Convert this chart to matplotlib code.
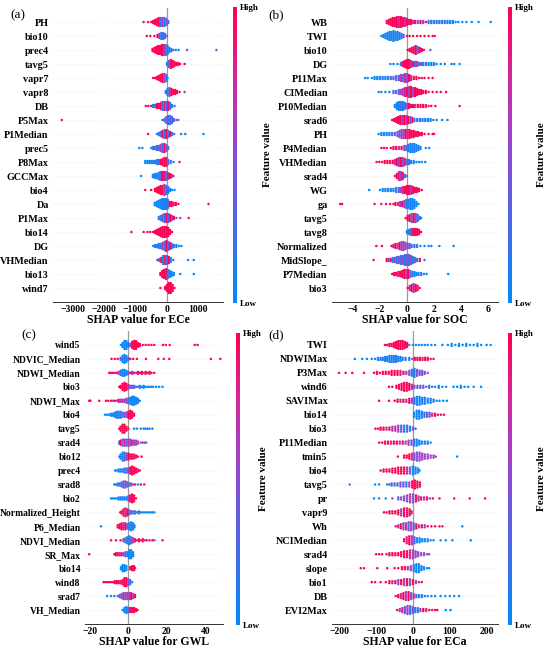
import numpy as np
import matplotlib
matplotlib.use("Agg")
import matplotlib.pyplot as plt
from matplotlib.colors import LinearSegmentedColormap, Normalize
from matplotlib.cm import ScalarMappable

plt.rcParams['font.family'] = ['Liberation Serif', 'DejaVu Serif']
plt.rcParams['font.weight'] = 'bold'
plt.rcParams['axes.labelweight'] = 'bold'

# each row: (shap value, number of stacked points, feature value 0=low 1=high)
feat_a = ["PH", "bio10", "prec4", "tavg5", "vapr7", "vapr8", "DB", "P5Max", "P1Median", "prec5",
          "P8Max", "GCCMax", "bio4", "Da", "P1Max", "bio14", "DG", "VHMedian", "bio13", "wind7"]
pts_a = [
    [(-740,1,1),(-600,1,1),(-500,1,1),(-440,2,1),(-380,3,1),(-320,4,0.9),(-260,5,1),(-200,5,0.1),(-140,5,0.7),(-80,5,0.1),(-20,4,0.5),(40,2,0.2)],
    [(-640,1,1),(-530,1,1),(-400,1,1),(-300,2,1),(-240,3,0.6),(-180,4,0.1),(-120,4,0.3),(-60,3,0.1),(0,1,0.5)],
    [(-460,2,1),(-400,3,1),(-340,4,1),(-280,5,1),(-220,5,1),(-160,6,1),(-100,6,0.8),(-40,6,0.3),(20,5,0.2),(80,3,0.1),(140,2,0.1),(200,1,0.1),(280,1,0),(370,1,0),(640,1,0.5),(1570,1,0.5)],
    [(0,2,0.1),(60,4,0.3),(120,5,1),(180,4,1),(240,3,1),(300,2,1),(360,2,1),(420,1,1),(560,1,1)],
    [(-440,1,1),(-380,1,1),(-320,2,1),(-260,3,1),(-200,4,1),(-140,5,1),(-80,5,0.6),(-20,4,0.1),(20,1,0)],
    [(-40,2,0.1),(20,4,0.1),(80,5,0.3),(140,4,1),(200,3,1),(260,3,1),(320,2,1),(400,1,1),(560,1,0.5)],
    [(-670,1,1),(-590,1,1),(-500,1,1),(-440,2,0),(-380,2,0.1),(-320,3,1),(-260,3,1),(-200,4,1),(-140,5,0.2),(-80,5,0.8),(-20,5,0.3),(40,5,0.9),(100,4,0.2),(160,2,0.1),(240,1,0)],
    [(-3340,1,1),(-140,1,0),(-80,2,0.2),(-20,4,0.5),(40,5,0.1),(100,5,0.3),(160,4,0.1),(220,2,0.5),(300,1,0.5),(360,1,0.5)],
    [(-600,1,1),(-320,1,0.1),(-260,2,0.1),(-200,3,0.3),(-140,4,1),(-80,5,0.1),(-20,5,1),(40,4,0.3),(100,3,1),(160,2,0.2),(230,1,0),(450,1,0),(580,1,0),(1160,1,0)],
    [(-880,1,0),(-780,1,0),(-500,1,0.2),(-440,2,0.1),(-380,2,0.1),(-320,3,0.4),(-260,3,0.2),(-200,4,0.6),(-140,5,0.3),(-80,5,1),(-20,4,0.5),(40,2,0.2)],
    [(-690,2,0),(-620,2,0),(-560,2,0),(-500,2,0.1),(-440,2,0),(-380,2,0.2),(-320,3,0),(-260,3,0.3),(-200,3,1),(-140,4,1),(-80,5,1),(-20,5,0.9),(40,3,0.3),(120,2,0.1),(210,1,0),(400,1,1)],
    [(-820,1,0),(-450,2,0.1),(-390,3,0),(-330,3,0.2),(-270,4,0.1),(-210,5,0.3),(-150,5,1),(-90,5,0.9),(-30,5,0.2),(30,4,0.8),(90,3,1),(150,2,1),(210,1,0.5)],
    [(-690,1,1),(-500,1,1),(-380,2,1),(-320,3,1),(-260,4,1),(-200,5,1),(-140,5,1),(-80,6,0.7),(-20,5,0.2),(40,4,0.1),(100,2,0.1),(160,1,0),(240,1,0)],
    [(-390,2,0),(-330,3,0),(-270,4,0.1),(-210,5,0.1),(-150,6,0),(-90,6,0.1),(-30,6,0.2),(30,5,0.1),(90,3,1),(150,3,1),(210,2,1),(280,2,1),(360,1,1),(1320,1,1)],
    [(-260,2,0.1),(-200,3,0.1),(-140,4,0.5),(-80,5,0.2),(-20,5,1),(40,5,0.3),(100,4,1),(160,3,0.6),(220,2,1),(300,1,0.5),(420,1,0.5),(690,1,1)],
    [(-1130,1,1),(-740,1,1),(-620,1,1),(-530,1,1),(-440,1,1),(-380,2,1),(-320,3,1),(-260,4,1),(-200,5,1),(-140,6,1),(-80,6,1),(-20,6,1),(40,5,1),(100,3,1),(160,1,1)],
    [(-440,1,0),(-380,2,0.1),(-320,2,0),(-260,3,0.2),(-200,3,0.1),(-140,4,0.7),(-80,5,0.2),(-20,6,1),(40,5,0.3),(100,4,1),(160,3,0.2),(220,2,0.1),(300,2,0),(380,1,0),(460,1,0)],
    [(-300,1,1),(-240,2,0.2),(-180,3,1),(-120,5,0.1),(-60,5,0.8),(0,5,0.3),(60,4,1),(120,3,0.2),(200,1,0),(670,1,0),(850,1,0)],
    [(-210,2,1),(-150,4,1),(-90,5,1),(-30,6,0.9),(30,5,0.2),(90,4,0.1),(150,3,0),(220,2,0),(420,1,0),(850,1,0)],
    [(-210,1,1),(-60,2,1),(0,4,1),(60,6,1),(120,6,1),(180,4,1),(240,1,1)],
]

feat_b = ["WB", "TWI", "bio10", "DG", "P11Max", "CIMedian", "P10Median", "srad6", "PH", "P4Median",
          "VHMedian", "srad4", "WG", "ga", "tavg5", "tavg8", "Normalized", "MidSlope_", "P7Median", "bio3"]
pts_b = [
    [(-1.5,2,1),(-1.35,3,1),(-1.2,4,1),(-1.05,5,1),(-0.9,5,1),(-0.75,6,1),(-0.6,6,0.8),(-0.45,6,1),(-0.3,5,1),(-0.15,5,0.7),(0,4,1),(0.15,3,0.9),(0.3,3,1),(0.45,2,0.6),(0.6,2,1),(0.8,2,0.5),(1.0,2,1),(1.2,2,0.5),(1.4,1,1),(1.6,2,0.3),(1.8,2,0.1),(2.0,2,0.3),(2.2,2,0),(2.4,2,0.2),(2.6,2,0),(2.8,2,0.3),(3.0,2,0),(3.2,2,0.1),(3.4,2,0),(3.6,1,0),(3.8,1,0),(4.1,1,0),(4.4,1,0),(4.8,1,0),(5.3,1,0),(6.2,1,0)],
    [(-1.9,1,0),(-1.75,2,0),(-1.6,3,0),(-1.45,4,0.1),(-1.3,5,0),(-1.15,5,0.2),(-1.0,6,0),(-0.85,5,0.1),(-0.7,5,0),(-0.55,4,0.3),(-0.4,3,0),(-0.25,2,0.5),(0,1,1),(0.2,1,1),(0.45,1,1),(0.75,1,1),(1.0,1,1),(1.3,1,1),(1.6,1,1),(1.9,1,1),(2.05,1,1)],
    [(0.05,1,1),(0.2,2,1),(0.35,3,1),(0.5,4,0.9),(0.65,5,1),(0.8,4,0.3),(0.95,3,1),(1.1,2,1),(1.25,1,1),(1.73,1,0.5)],
    [(-1.23,1,0),(-1.0,1,0),(-0.7,1,0),(-0.45,2,0.2),(-0.3,3,1),(-0.15,4,1),(0,5,1),(0.15,5,1),(0.3,4,0.7),(0.45,3,1),(0.6,3,0.3),(0.75,3,0.6),(0.9,2,0.2),(1.05,2,0.4),(1.2,2,0.1),(1.4,2,0.2),(1.6,2,0),(1.8,2,0.1),(2.0,2,0),(2.2,1,0),(2.5,1,0),(2.8,1,0),(3.3,1,0),(3.5,1,0),(3.9,1,0)],
    [(-3.1,1,0),(-2.9,1,0),(-2.6,1,0),(-2.4,2,0),(-2.2,2,0.1),(-2.0,2,0),(-1.8,2,0.2),(-1.6,2,0),(-1.4,2,0.1),(-1.2,2,0.3),(-1.0,2,0.2),(-0.8,3,0.5),(-0.6,3,0.3),(-0.45,4,0.6),(-0.3,4,0.4),(-0.15,5,0.7),(0,5,0.5),(0.15,4,1),(0.3,3,0.8),(0.5,2,1),(0.7,2,1),(0.9,1,1),(1.1,1,1),(1.3,1,1),(1.6,1,1),(1.9,1,1)],
    [(-2.1,1,0),(-1.9,1,0),(-1.6,1,0),(-1.3,1,0),(-1.0,2,0.2),(-0.8,2,0.1),(-0.6,3,0.5),(-0.45,3,0.7),(-0.3,4,0.5),(-0.15,5,0.8),(0,5,1),(0.15,6,0.6),(0.3,6,1),(0.45,5,0.6),(0.6,5,1),(0.75,4,1),(0.9,3,1),(1.05,3,1),(1.2,2,1),(1.4,2,1),(1.6,1,1),(1.9,1,1),(2.2,1,1),(2.5,1,1),(2.9,1,1)],
    [(-0.9,2,0),(-0.75,4,0.1),(-0.6,5,0),(-0.45,5,0.3),(-0.3,5,0),(-0.15,4,0.2),(0,3,0.5),(0.15,3,1),(0.3,2,1),(0.45,2,1),(0.6,2,0.7),(0.8,2,1),(1.0,2,1),(1.2,2,1),(1.4,2,0.8),(1.6,1,1),(1.8,1,1),(2.1,1,1),(3.9,1,1)],
    [(-1.1,1,1),(-0.95,2,1),(-0.8,3,1),(-0.65,4,1),(-0.5,5,1),(-0.35,5,0.7),(-0.2,5,1),(-0.05,5,0.8),(0.1,4,1),(0.25,4,0.4),(0.4,3,1),(0.55,2,0.3),(0.75,2,0.1),(0.95,2,0.2),(1.15,2,0),(1.35,2,0.2),(1.55,2,0),(1.75,2,0.1),(1.95,1,0),(2.2,1,0),(2.6,1,0),(3.0,1,0)],
    [(-2.1,1,0),(-1.9,2,0),(-1.7,2,0.1),(-1.5,2,0),(-1.3,2,0.2),(-1.1,2,0.1),(-0.9,2,0.3),(-0.7,3,0.5),(-0.55,4,0.4),(-0.4,5,0.6),(-0.25,5,0.5),(-0.1,5,1),(0.05,5,0.8),(0.2,5,1),(0.35,4,1),(0.5,4,1),(0.65,3,1),(0.8,3,1),(0.95,2,1),(1.1,2,1),(1.3,1,1),(1.6,1,1),(1.9,1,1),(2.0,1,1)],
    [(-1.9,1,1),(-1.7,1,1),(-1.5,1,1),(-1.2,1,1),(-1.0,2,1),(-0.8,2,1),(-0.6,2,0.7),(-0.4,2,1),(-0.2,3,0.5),(-0.05,3,0.3),(0.1,4,0.1),(0.25,5,0),(0.4,5,0.2),(0.55,5,0),(0.7,4,0.1),(0.85,3,0),(1.0,2,0.1),(1.4,1,0),(1.65,1,0)],
    [(-2.25,1,1),(-2.05,1,1),(-1.85,1,1),(-1.65,2,1),(-1.45,2,1),(-1.25,2,1),(-1.05,2,1),(-0.9,3,0.7),(-0.75,4,1),(-0.6,5,0.6),(-0.45,5,1),(-0.3,5,0.5),(-0.15,4,0.8),(0,3,0.3),(0.15,3,0.2),(0.3,2,0),(0.5,2,0.1),(0.7,1,0),(0.9,1,0),(1.1,1,0),(1.35,1,0)],
    [(-0.9,1,1),(-0.75,3,1),(-0.6,5,0.8),(-0.45,5,0.6),(-0.3,4,0.9),(-0.15,2,0.4),(0,1,0)],
    [(-2.8,1,0),(-2.0,1,0),(-1.8,2,0),(-1.6,2,0.1),(-1.4,2,0),(-1.2,2,0.2),(-1.0,2,0),(-0.8,3,0.3),(-0.6,3,0.2),(-0.45,3,0.5),(-0.3,4,0.8),(-0.15,4,1),(0,5,1),(0.15,5,1),(0.3,5,0.6),(0.45,4,1),(0.6,3,1),(0.75,3,1),(0.9,2,1),(1.1,1,1)],
    [(-4.95,1,1),(-4.8,1,1),(-2.4,1,1),(-1.9,1,1),(-1.55,1,1),(-1.25,1,1),(-1.0,1,1),(-0.85,2,1),(-0.65,2,0.8),(-0.5,3,0.6),(-0.35,3,1),(-0.2,4,0.5),(-0.05,5,0.2),(0.1,5,0),(0.25,6,0.1),(0.4,6,0),(0.55,5,0.1),(0.7,3,0),(0.85,1,0)],
    [(-0.1,1,1),(0.05,3,1),(0.2,4,1),(0.35,5,0.3),(0.5,5,1),(0.65,5,0.6),(0.8,4,0.1),(0.95,2,0.3),(1.05,1,0)],
    [(0.0,2,0),(0.15,3,0.1),(0.3,4,0.3),(0.45,4,1),(0.6,4,1),(0.75,4,1),(0.9,3,1),(1.05,1,1)],
    [(-2.27,1,1),(-1.85,1,1),(-1.15,1,1),(-1.0,2,1),(-0.85,3,1),(-0.7,3,0.6),(-0.55,4,1),(-0.4,5,0.5),(-0.25,5,0.7),(-0.1,4,0.4),(0.05,3,0.6),(0.2,3,0.3),(0.35,2,0.5),(0.55,2,0),(0.75,2,0.2),(1.0,1,0),(1.3,1,0),(1.6,1,0),(1.8,1,0),(2.4,1,0),(3.45,1,0)],
    [(-2.47,1,1),(-1.5,2,1),(-1.35,2,0.5),(-1.2,2,1),(-1.05,3,0.2),(-0.9,3,0.4),(-0.75,4,0.1),(-0.6,4,0.5),(-0.45,5,0.2),(-0.3,5,0.6),(-0.15,6,0.1),(0,6,0.4),(0.15,6,0.2),(0.3,5,0.6),(0.45,4,0.1),(0.6,3,0.3),(0.75,2,0.1),(0.95,2,1),(1.3,1,0.3)],
    [(-1.1,1,1),(-0.95,2,1),(-0.8,2,1),(-0.65,3,0.8),(-0.5,3,1),(-0.35,4,1),(-0.2,5,1),(-0.05,5,0.7),(0.1,5,1),(0.25,4,0.4),(0.4,3,0.2),(0.55,3,0),(0.7,2,0.1),(0.85,2,0),(1.05,2,0.2),(1.25,1,0),(1.45,1,0),(3.05,1,0)],
    [(0.05,1,1),(0.2,3,0.8),(0.35,4,1),(0.5,5,0.6),(0.65,4,1),(0.8,3,0.8),(0.95,1,1)],
]

feat_c = ["wind5", "NDVIC_Median", "NDWI_Median", "bio3", "NDWI_Max", "bio4", "tavg5", "srad4", "bio12", "prec4",
          "srad8", "bio2", "Normalized_Height", "P6_Median", "NDVI_Median", "SR_Max", "bio14", "wind8", "srad7", "VH_Median"]
pts_c = [
    [(-3.8,1,0),(-3,3,0),(-2,5,0.1),(-1,5,0),(0,3,0.2),(1,2,0.5),(2,4,1),(3,5,1),(4,5,1),(5,3,1),(6,2,1),(7.5,1,1),(9,1,1),(10.5,1,1),(12,1,1),(13.5,1,1),(18,1,1),(19.5,1,1),(21.5,1,1),(34.5,1,1),(36,1,1)],
    [(-8.7,1,1),(-7,1,1),(-5.5,1,1),(-4,2,0.3),(-3,4,0),(-2,5,0),(-1,4,0.1),(0,2,0.2),(1,1,1),(2.5,1,1),(4.5,1,1),(9.2,1,1),(15.6,1,1),(18.4,1,1),(21.3,1,1),(42.9,1,1),(47.8,1,1)],
    [(-9.9,1,1),(-9,1,1),(-8,1,1),(-7,1,0.8),(-6,1,1),(-5,2,0.6),(-4,3,0.2),(-3,4,0),(-2,4,0.1),(-1,3,0),(0,2,0.4),(1,1,1),(2,2,0.8),(3,1,1),(4,1,0.6),(5,2,1),(6,1,1),(7,2,1),(8,1,0.8),(9,2,1),(10,1,1),(11,2,1),(12,1,1),(13.5,1,1)],
    [(-4.7,1,1),(-4,2,1),(-3,4,1),(-2,5,1),(-1,4,1),(0,3,0.7),(1,2,0.4),(2,2,0.3),(3,2,0.5),(4,1,0.2),(5,1,0),(6,2,0),(7,1,0.1),(8,2,0),(9,1,0),(10,1,0),(11,1,0),(12,1,0.1),(13,1,0),(14.5,1,0),(16,1,0),(17.8,1,0)],
    [(-20.3,1,1),(-19.7,1,1),(-15.1,1,1),(-11.6,1,1),(-10.4,1,1),(-9,1,1),(-8,1,0.7),(-7,1,1),(-6,1,0.5),(-5,2,1),(-4,2,0.6),(-3,2,0.8),(-2,2,0.4),(-1,3,0.6),(0,3,0.2),(1,4,0),(2,5,0.1),(3,5,0),(4,4,0.2),(5,3,0),(6,1,0.1)],
    [(-12.1,1,0),(-11,1,0),(-10,1,0),(-9,2,0),(-8,2,0.1),(-7,3,0),(-6,4,0.2),(-5,4,0),(-4,4,0.3),(-3,3,0.1),(-2,3,0.5),(-1,3,0.6),(0,4,1),(1,5,1),(2,4,1),(3,2,1)],
    [(-4.7,1,1),(-4,3,1),(-3,5,1),(-2,5,1),(-1,3,1),(0,1,1),(3,1,0),(4.5,1,0),(6.5,1,0),(8,1,0),(9,1,0.1),(10,1,0),(11,1,0),(12.5,1,0)],
    [(-4.7,2,0.3),(-4,3,1),(-3,4,0.5),(-2,4,0.8),(-1,4,0.3),(0,4,0.7),(1,4,0.4),(2,3,0.9),(3,3,0.5),(4,3,0.6),(5,2,0.7),(6.5,1,0.5),(7.5,1,0.6),(8.5,1,0.5),(9.3,1,0.6)],
    [(-4.7,1,0),(-4,3,0),(-3,5,0.1),(-2,5,0.2),(-1,4,0.6),(0,4,1),(1,3,1),(2,3,1),(3,3,0.8),(4,2,1),(5,1,1),(6.9,1,1)],
    [(-6.9,1,0),(-6,1,0),(-5,2,0.1),(-4,2,0),(-3,2,0.3),(-2,3,0),(-1,3,0.4),(0,3,0.6),(1,4,1),(2,5,1),(3,4,1),(4,3,1),(5,2,0.8),(6,1,1)],
    [(-7.3,1,0),(-6.5,1,0),(-5.5,2,0.1),(-4.5,2,0),(-3.5,3,0.4),(-2.5,4,0.2),(-1.5,4,0.7),(-0.5,3,0.3),(0.5,2,0.5),(1.5,2,0.2),(2.5,1,0.6),(3.5,1,1),(5,1,0.1),(6.5,1,1),(8.3,1,1)],
    [(-9,1,0),(-8,1,0),(-7,1,0),(-6,1,0),(-5,2,0),(-4,2,0.1),(-3,2,0),(-2,2,0.2),(-1,2,0),(0,3,0.6),(1,4,1),(2,5,1),(3,4,1),(4,1,1)],
    [(-4.2,1,1),(-3.5,2,1),(-2.5,4,1),(-1.5,5,0.8),(-0.5,4,1),(0.5,3,0.6),(1.5,2,0.3),(2.5,2,0.2),(3.5,2,0),(4.5,1,0.5),(5.5,2,0.1),(6.5,1,0),(7.5,1,0.2),(8.5,1,0),(9.5,1,0),(10.5,1,0),(11.5,1,0),(12.5,1,0),(13.5,1,0)],
    [(-14.2,1,0),(-5.5,2,1),(-4.5,3,1),(-3.5,4,1),(-2.5,4,0.8),(-1.5,4,1),(-0.5,3,0.5),(0.5,4,0.1),(1.5,5,0),(2.5,4,0.2),(3.2,2,0)],
    [(-9,1,1),(-6.4,1,1),(-4,1,1),(-2.5,2,0.7),(-1.5,3,0.3),(-0.5,4,0),(0.5,5,0.1),(1.5,4,0.3),(2.5,3,0.6),(3.5,2,1),(4.5,1,0.8),(5.5,2,1),(6.5,1,0.6),(7.5,2,1),(8.5,1,0.7),(9.5,1,1),(11,1,1),(12.5,1,1),(13.5,1,0.6),(17.8,1,1)],
    [(-20.3,1,1),(-7.3,1,1),(-6.5,2,1),(-5.5,2,1),(-4.5,2,0.8),(-3.5,2,1),(-2.5,2,0.6),(-1.5,3,0.4),(-0.5,3,0.2),(0.5,5,0),(1.5,5,0),(2.5,3,0.1)],
    [(-3.8,2,0),(-3,4,0),(-2,4,0),(-1,3,0),(1,2,1),(2,3,1),(3,3,1),(3.5,1,1)],
    [(-12.8,1,1),(-12,1,1),(-11,1,1),(-10,1,1),(-9,1,1),(-8,1,1),(-7,2,1),(-6,2,1),(-5,2,1),(-4,2,0.8),(-3,3,1),(-2,5,1),(-1,5,1),(0,4,0.5),(1,3,0.1),(2,1,0)],
    [(-11,1,0),(-9,1,0),(-7.3,1,0),(-5.5,1,0.2),(-4.5,2,0.5),(-3.5,3,0.3),(-2.5,4,0.8),(-1.5,4,0.4),(-0.5,4,0.7),(0.5,4,0.5),(1.5,4,1),(2.5,3,0.6),(3.5,2,1)],
    [(-3,1,0),(-2,3,0),(-1,4,0.1),(0,3,0.3),(1,3,1),(2,3,1),(3,3,1),(4,2,1),(4.8,1,1)],
]

feat_d = ["TWI", "NDWIMax", "P3Max", "wind6", "SAVIMax", "bio14", "bio3", "P11Median", "tmin5", "bio4",
          "tavg5", "pr", "vapr9", "Wh", "NCIMedian", "srad4", "slope", "bio1", "DB", "EVI2Max"]
pts_d = [
    [(-76,1,1),(-70,1,1),(-64,2,1),(-58,2,1),(-52,3,1),(-46,4,1),(-40,5,1),(-34,5,1),(-28,5,1),(-22,4,1),(-16,3,1),(-10,1,0.5),(0,1,0),(8,1,0),(16,1,0),(24,1,0),(32,1,0),(40,1,0),(50,1,0.1),(60,1,0),(80,1,0),(95,1,0),(105,2,0),(115,1,0.1),(125,2,0),(135,1,0),(145,2,0),(155,1,0),(165,1,0),(175,2,0),(185,1,0),(200,1,0),(211,1,0)],
    [(-158,1,0),(-138,1,0),(-125,1,0),(-112,1,0),(-103,1,0),(-95,2,0.1),(-88,2,0),(-82,2,0.3),(-76,3,0),(-70,3,0.2),(-64,4,0),(-58,4,0.1),(-52,4,0),(-46,4,0.3),(-40,3,0),(-34,3,0.1),(-28,2,0),(-20,2,0.2),(-10,2,0),(-2,1,0.5),(5,2,1),(12,2,1),(19,2,1),(26,2,0.8),(33,2,1),(40,2,1),(48,1,1),(56,1,1)],
    [(-201,1,1),(-183,1,1),(-165,1,1),(-133,1,1),(-106,1,1),(-98,2,1),(-90,1,1),(-82,2,1),(-74,2,1),(-66,2,1),(-58,3,1),(-50,3,1),(-42,3,1),(-34,3,0.8),(-26,2,1),(-18,2,0.6),(-10,3,0.4),(-3,4,0.2),(4,5,0.1),(11,4,0.5),(18,3,0.3),(25,3,0.6),(32,2,0.5),(40,1,0.5)],
    [(-65,1,1),(-56,1,1),(-45,2,1),(-38,3,1),(-31,4,1),(-24,5,1),(-17,5,1),(-10,4,1),(-3,3,0.8),(4,2,0.4),(12,2,0.3),(20,2,0.5),(28,2,0.2),(36,1,0.4),(44,2,0.2),(52,1,0.3),(60,1,0),(70,2,0.1),(80,1,0),(90,1,0.2),(110,1,0),(120,1,0),(130,2,0),(140,1,0),(150,1,0),(165,1,0),(185,1,0)],
    [(-92,1,1),(-65,1,1),(-50,1,1),(-42,2,1),(-34,2,0.8),(-26,2,1),(-18,2,0.6),(-10,3,1),(-3,3,0.5),(4,4,0.2),(11,5,0),(18,5,0.1),(25,4,0),(32,4,0.2),(40,3,0),(48,3,0.1),(56,2,0),(64,1,0),(72,1,0),(82,1,0),(92,1,0)],
    [(3,3,0),(10,5,0),(17,5,0.1),(24,4,0),(31,3,0.3),(38,3,0.2),(45,3,0.5),(52,2,0.8),(60,2,1),(68,1,1),(76,1,1),(84,1,1)],
    [(-102,1,1),(-95,1,1),(-88,2,1),(-80,2,1),(-72,2,0.7),(-64,2,1),(-56,3,0.6),(-48,3,0.8),(-40,4,0.5),(-32,4,0.3),(-24,4,0.1),(-16,4,0.4),(-8,3,0),(0,2,0.5),(7,1,0.2)],
    [(-92,1,1),(-84,1,1),(-76,2,1),(-68,2,1),(-60,2,0.8),(-52,2,1),(-44,2,1),(-36,2,0.6),(-28,2,1),(-20,2,0.5),(-12,3,0.7),(-4,3,0.4),(3,4,0.2),(10,4,0),(17,3,0.1),(24,2,0),(32,2,0.1),(40,2,0),(48,1,0)],
    [(-41,1,1),(-24,2,1),(-17,2,1),(-10,3,1),(-3,4,0.7),(4,4,0.5),(11,5,0.4),(18,5,0.6),(25,4,0.5),(32,3,0.7),(40,3,0.5),(48,2,0.6),(56,2,0.5),(62,1,0.6),(120,1,0)],
    [(-88,1,1),(-80,2,1),(-72,2,1),(-64,2,1),(-56,3,1),(-48,3,1),(-40,4,1),(-32,4,1),(-24,4,1),(-16,4,0.8),(-8,4,0.4),(0,5,0),(7,4,0.1),(14,3,0),(18,1,0)],
    [(-172,1,0.4),(-103,1,0),(-92,1,0),(-70,1,0.2),(-64,1,0.3),(-58,2,0.1),(-50,2,0.4),(-42,2,0.2),(-34,3,0.5),(-26,3,0.3),(-18,3,0.1),(-10,3,0.6),(-2,4,1),(5,5,1),(12,4,1),(19,3,1)],
    [(-106,1,0),(-92,1,0),(-74,1,0),(-56,1,0.5),(-40,2,0.3),(-32,2,0.5),(-24,3,0.6),(-16,4,0.4),(-8,5,0.7),(0,5,0.5),(8,4,1),(15,3,0.6),(22,2,1),(30,2,0.7),(38,2,1),(46,1,0.6),(54,1,1),(72,1,1),(112,1,1),(154,1,1),(196,1,1)],
    [(-79,1,1),(-72,1,1),(-64,2,1),(-56,2,1),(-48,2,1),(-40,3,1),(-32,4,0.7),(-24,5,1),(-16,5,0.9),(-9,4,1),(-4,2,1)],
    [(-47,1,1),(-40,2,0.7),(-33,3,1),(-26,4,0.5),(-19,4,0.8),(-12,5,0.3),(-5,5,0.6),(2,4,0.4),(9,3,1),(16,2,0.6),(24,2,1),(32,2,0.5),(40,1,1),(50,1,1),(60,1,1),(72,1,1),(80,1,1),(134,1,0)],
    [(-24,2,1),(-17,4,0.8),(-10,5,1),(-3,5,0.6),(4,4,0.3),(11,3,0.1),(18,3,0),(25,2,0.1),(32,2,0),(40,2,0.1),(48,1,0),(56,1,0),(75,1,0),(89,1,0),(107,1,0),(157,1,0)],
    [(-100,1,1),(-92,1,1),(-84,1,1),(-72,1,1),(-64,2,1),(-56,2,1),(-48,2,1),(-40,2,1),(-32,3,1),(-24,4,1),(-16,4,1),(-8,5,0.8),(0,5,0.6),(7,4,0.5),(14,3,0.6),(22,2,0.4),(30,2,0.5),(38,1,0.5),(44,1,0.5)],
    [(-142,1,1),(-133,1,1),(-97,1,1),(-70,1,1),(-50,1,1),(-40,1,1),(-30,2,1),(-22,2,1),(-14,2,0.8),(-6,3,0.5),(2,4,0.1),(9,5,0),(16,5,0),(23,3,0.1),(30,2,0),(38,1,0),(44,1,0)],
    [(-112,1,1),(-103,1,1),(-88,1,1),(-74,1,1),(-64,2,1),(-56,2,0.7),(-48,2,1),(-40,3,0.5),(-32,3,1),(-24,4,0.6),(-16,4,1),(-8,4,0.4),(0,3,1),(8,2,0.5),(16,1,1),(24,1,1)],
    [(-47,1,1),(-40,2,1),(-33,3,0.8),(-26,4,1),(-19,5,0.6),(-12,5,1),(-5,4,0.5),(2,3,0.7),(9,2,0.3),(16,2,0.1),(24,2,0),(32,1,0.2),(40,1,0),(50,1,0),(60,1,0),(75,1,0),(88,1,0),(100,1,0),(112,1,0),(125,1,0)],
    [(-43,1,1),(-36,2,0.6),(-29,3,0.8),(-22,4,0.4),(-15,5,0.5),(-8,5,0.3),(-1,4,0.4),(6,3,0.2),(13,3,0.1),(20,2,0.6),(28,2,1),(36,2,0.8),(44,1,1),(52,1,1),(60,1,1),(66,1,1),(89,1,0),(102,1,0)],
]

cmap = LinearSegmentedColormap.from_list(
    "shap_rb", [(0, "#008bfb"), (0.5, "#8a4bd6"), (0.75, "#cf2aa0"), (1, "#ff0052")])
W, H = 550.0, 651.0
STEP = 0.14


def px(x0, y0, x1, y1):
    return [x0 / W, 1 - y1 / H, (x1 - x0) / W, (y1 - y0) / H]


def swarm(fig, box, cbox, labx, feats, pts, xlabel, xlim, xticks, letter, letpos, ysize=7.3):
    ax = fig.add_axes(px(*box))
    n = len(feats)
    xs, ys, cs = [], [], []
    for i, row in enumerate(pts):
        y0 = n - 1 - i
        for x, k, c in row:
            offs = (np.arange(k) - (k - 1) / 2.0) * STEP
            xs += [x] * k
            ys += list(y0 + offs)
            cs += [c] * k
    for i in range(n):
        ax.axhline(i, color="#cccccc", lw=0.5, dashes=(1, 5), zorder=-1)
    ax.axvline(0, color="#999999", lw=0.9, zorder=-1)
    ax.scatter(xs, ys, c=cs, cmap=cmap, vmin=0, vmax=1, s=3.2, linewidths=0, zorder=3)
    ax.set_xlim(*xlim)
    ax.set_ylim(-1, n)
    ax.set_yticks(range(n))
    ax.set_yticklabels(feats[::-1], fontsize=ysize)
    ax.set_xticks(xticks)
    ax.tick_params(axis='y', length=0, pad=3)
    ax.tick_params(axis='x', labelsize=7, length=0, pad=2)
    for s in ["top", "right", "left"]:
        ax.spines[s].set_visible(False)
    ax.spines["bottom"].set_color("#333333")
    ax.spines["bottom"].set_linewidth(0.7)
    ax.set_xlabel(xlabel, fontsize=8.5, labelpad=0)

    cax = fig.add_axes(px(*cbox))
    cb = fig.colorbar(ScalarMappable(norm=Normalize(0, 1), cmap=cmap), cax=cax, ticks=[0, 1])
    cb.set_ticklabels(["Low", "High"])
    cb.outline.set_visible(False)
    cb.ax.tick_params(length=0, labelsize=6.5, pad=2)
    fig.text(labx / W, 1 - (cbox[1] + cbox[3]) / 2 / H, "Feature value", rotation=90,
             ha="center", va="center", fontsize=8)
    fig.text(letpos[0] / W, 1 - letpos[1] / H, letter, fontsize=9.5, fontweight="normal",
             ha="left", va="center")
    return ax


fig = plt.figure(figsize=(5.5, 6.51), dpi=100)
swarm(fig, (53, 8, 223, 302), (233, 7, 237, 303), 267, feat_a, pts_a, "SHAP value for ECe",
      (-3620, 1780), [-3000, -2000, -1000, 0, 1000], "(a)", (10, 15))
swarm(fig, (332, 8, 498, 302), (508, 7, 512, 303), 542, feat_b, pts_b, "SHAP value for SOC",
      (-5.55, 6.74), [-4, -2, 0, 2, 4, 6], "(b)", (268, 15))
swarm(fig, (85, 331, 223, 624), (236, 333, 240, 625), 263, feat_c, pts_c, "SHAP value for GWL",
      (-22.5, 49.2), [-20, 0, 20, 40], "(c)", (21, 335), ysize=6.9)
swarm(fig, (332, 331, 498, 624), (508, 333, 512, 625), 542, feat_d, pts_d, "SHAP value for ECa",
      (-220, 231), [-200, -100, 0, 100, 200], "(d)", (268, 335))
fig.savefig("out.png", dpi=100)
